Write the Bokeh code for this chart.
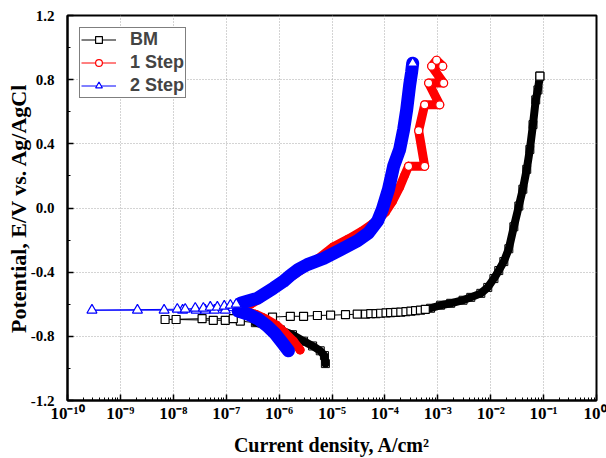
from bokeh.plotting import figure
from bokeh.models import (FixedTicker, Legend, LegendItem, Range1d,
                          NumeralTickFormatter, CustomJSTickFormatter)
from bokeh.embed import file_html
from bokeh.resources import INLINE

# ---------------- data (current density A/cm2, potential V vs Ag/AgCl) ----------------
# BM : cathodic branch, region around Ecorr (sparse markers), anodic branch
bm_cath_current = [7.5e-6, 7.2e-6, 6.0e-6, 4.3e-6, 2.9e-6, 1.79e-6, 1.06e-6, 6.3e-7, 3.56e-7]
bm_cath_potential = [-0.97, -0.92, -0.89, -0.86, -0.83, -0.79, -0.76, -0.735, -0.715]
bm_mid_current = [1.85e-7, 9.6e-8, 5.7e-8, 1.13e-8, 7.0e-9, 3.5e-8, 1.36e-7, 4.4e-7, 7.5e-7,
                  1.63e-6, 2.9e-6, 5.3e-6, 9.4e-6, 1.8e-5, 3.0e-5, 4.3e-5, 5.4e-5, 6.8e-5,
                  8.3e-5, 1.05e-4, 1.28e-4, 1.6e-4, 2.0e-4, 2.5e-4, 3.1e-4, 3.8e-4, 4.7e-4, 5.8e-4]
bm_mid_potential = [-0.705, -0.70, -0.70, -0.695, -0.695, -0.69, -0.69, -0.685, -0.68,
                    -0.675, -0.675, -0.67, -0.668, -0.665, -0.662, -0.661, -0.659, -0.658,
                    -0.656, -0.654, -0.652, -0.651, -0.649, -0.646, -0.643, -0.64, -0.637, -0.632]
bm_anod_current = [7.3e-4, 1.13e-3, 1.75e-3, 3.0e-3, 4.2e-3, 6.5e-3, 8.8e-3, 1.15e-2, 1.42e-2,
                   1.77e-2, 2.2e-2, 2.74e-2, 3.4e-2, 4.05e-2, 4.8e-2, 5.5e-2, 6.3e-2, 7.1e-2,
                   7.8e-2, 8.5e-2]
bm_anod_potential = [-0.625, -0.606, -0.594, -0.575, -0.557, -0.532, -0.495, -0.44, -0.39,
                     -0.334, -0.254, -0.117, 0.012, 0.117, 0.241, 0.365, 0.52, 0.674,
                     0.736, 0.822]

# 1 Step
s1_cath_current = [2.5e-6, 1.87e-6, 1.31e-6, 8.9e-7, 5.7e-7, 3.56e-7, 2.3e-7, 1.85e-7]
s1_cath_potential = [-0.885, -0.83, -0.78, -0.73, -0.693, -0.662, -0.643, -0.625]
s1_anod_current = [2.9e-7, 4.4e-7, 1.06e-6, 2.5e-6, 5.5e-6, 1.07e-5, 2.06e-5, 3.8e-5,
                   5.8e-5, 8.3e-5, 1.03e-4, 1.4e-4, 1.9e-4, 2.36e-4]
s1_anod_potential = [-0.60, -0.563, -0.476, -0.39, -0.315, -0.241, -0.192, -0.142,
                     -0.099, -0.056, -0.025, 0.043, 0.13, 0.204]
s1_top_current = [2.8e-4, 5.65e-4, 4.35e-4, 5.65e-4, 1.09e-3, 6.7e-4, 1.29e-3, 7.65e-4, 9.5e-4, 1.24e-3]
s1_top_potential = [0.26, 0.26, 0.482, 0.643, 0.643, 0.779, 0.779, 0.884, 0.921, 0.884]

# 2 Step
s2_cath_current = [1.5e-6, 1.15e-6, 8.5e-7, 6.0e-7, 4.05e-7, 2.6e-7, 1.69e-7]
s2_cath_potential = [-0.89, -0.84, -0.785, -0.736, -0.693, -0.662, -0.643]
s2_mid_current = [9.6e-8, 6.0e-8, 4.0e-8, 2.7e-8, 1.5e-8, 6.7e-9, 2.1e-9, 2.9e-10,
                  1.19e-8, 1.68e-8, 2.6e-8, 3.7e-8, 5.0e-8, 6.8e-8, 9.2e-8, 1.2e-7, 1.55e-7]
s2_mid_potential = [-0.637, -0.637, -0.637, -0.637, -0.637, -0.637, -0.637, -0.637,
                    -0.631, -0.631, -0.625, -0.625, -0.618, -0.618, -0.612, -0.606, -0.60]
s2_anod_current = [1.85e-7, 3.9e-7, 7.8e-7, 1.2e-6, 1.63e-6, 2.3e-6, 3.4e-6, 6.9e-6, 1.45e-5,
                   3.04e-5, 4.9e-5, 7.3e-5, 9.0e-5, 1.17e-4, 1.46e-4, 1.9e-4, 2.26e-4, 2.58e-4,
                   2.94e-4, 3.2e-4, 3.35e-4]
s2_anod_potential = [-0.594, -0.563, -0.50, -0.458, -0.42, -0.383, -0.353, -0.315, -0.26,
                     -0.204, -0.155, -0.08, -0.006, 0.117, 0.26, 0.365, 0.489, 0.612,
                     0.767, 0.847, 0.903]

x_ticks = [1e-10, 1e-9, 1e-8, 1e-7, 1e-6, 1e-5, 1e-4, 1e-3, 1e-2, 1e-1, 1e0]
y_ticks = [-1.2, -0.8, -0.4, 0.0, 0.4, 0.8, 1.2]
y_minor = [-1.0, -0.6, -0.2, 0.2, 0.6, 1.0]
x_minor = [m * t for t in x_ticks[:-1] for m in range(2, 10)]

SERIF = "Liberation Serif"

p = figure(width=606, height=458, x_axis_type="log",
           x_range=Range1d(1e-10, 1e0), y_range=Range1d(-1.2, 1.2),
           output_backend="svg", toolbar_location=None,
           min_border_left=67, min_border_right=10, min_border_top=15, min_border_bottom=56)
p.background_fill_color = "white"
p.border_fill_color = "white"
p.outline_line_color = "black"
p.outline_line_width = 2

p.xaxis.ticker = FixedTicker(ticks=x_ticks, minor_ticks=x_minor)
p.yaxis.ticker = FixedTicker(ticks=y_ticks, minor_ticks=y_minor)
p.yaxis.formatter = NumeralTickFormatter(format="0.0")
p.xaxis.formatter = CustomJSTickFormatter(code="""
const sup = {'-': '\u207b', '0': '\u2070', '1': '\u00b9', '2': '\u00b2', '3': '\u00b3',
             '4': '\u2074', '5': '\u2075', '6': '\u2076', '7': '\u2077', '8': '\u2078', '9': '\u2079'};
const e = Math.round(Math.log10(tick));
return '10' + String(e).split('').map(c => sup[c]).join('');
""")

for ax in (p.xaxis, p.yaxis):
    ax.axis_line_width = 2
    ax.axis_line_color = "black"
    ax.major_tick_in = 6
    ax.major_tick_out = 0
    ax.minor_tick_in = 3
    ax.minor_tick_out = 0
    ax.major_tick_line_width = 1.5
    ax.minor_tick_line_width = 1
    ax.major_label_text_font = SERIF
    ax.major_label_text_font_style = "bold"
    ax.major_label_text_font_size = "15px"
    ax.major_label_text_color = "black"
    ax.axis_label_text_font = SERIF
    ax.axis_label_text_font_style = "bold"
    ax.axis_label_text_font_size = "20px"
    ax.axis_label_text_color = "black"

p.xaxis.major_label_text_font_size = "17px"
p.xaxis.axis_label = "Current density, A/cm²"
p.yaxis.axis_label = "Potential, E/V vs. Ag/AgCl"
p.yaxis.axis_label_text_font_size = "22px"
p.xaxis.major_label_standoff = 3
p.xaxis.axis_label_standoff = 8
p.yaxis.major_label_standoff = 13
p.yaxis.axis_label_standoff = -3

for g in (p.xgrid, p.ygrid):
    g.grid_line_color = "#a8a8a8"
    g.grid_line_dash = "1 2"
    g.grid_line_width = 1


def draw_series(color, marker, size, thick, dense, open_sets, full):
    # thin connecting line through all points
    fc, fp = full
    line_r = p.line(fc, fp, line_color=color, line_width=1)
    # thick band where measurement points are dense
    for c, e in dense:
        p.line(c, e, line_color=color, line_width=thick, line_join="round", line_cap="round")
        p.scatter(c, e, marker=marker, size=size, line_color=color, fill_alpha=0, line_width=1)
    open_r = None
    for c, e in open_sets:
        r = p.scatter(c, e, marker=marker, size=size, line_color=color,
                      fill_color="white", line_width=1.2)
        if open_r is None:
            open_r = r
    return line_r, open_r


bm_line, bm_open = draw_series(
    "black", "square", 8, 8,
    [(bm_cath_current, bm_cath_potential), (bm_anod_current, bm_anod_potential)],
    [(bm_mid_current, bm_mid_potential), (bm_anod_current[-1:], bm_anod_potential[-1:])],
    (bm_cath_current + bm_mid_current + bm_anod_current,
     bm_cath_potential + bm_mid_potential + bm_anod_potential))

p.line(s1_top_current, s1_top_potential, line_color="#ff0000", line_width=9,
       line_join="round", line_cap="round")
s1_line, s1_open = draw_series(
    "#ff0000", "circle", 8, 9,
    [(s1_cath_current, s1_cath_potential),
     (s1_anod_current + s1_top_current[:1], s1_anod_potential + s1_top_potential[:1])],
    [(s1_top_current, s1_top_potential)],
    (s1_cath_current + s1_anod_current + s1_top_current,
     s1_cath_potential + s1_anod_potential + s1_top_potential))

s2_line, s2_open = draw_series(
    "#0000ff", "triangle", 10, 13,
    [(s2_cath_current, s2_cath_potential), (s2_anod_current, s2_anod_potential)],
    [(s2_mid_current, s2_mid_potential), (s2_anod_current[-1:], s2_anod_potential[-1:])],
    (s2_cath_current + s2_mid_current + s2_anod_current,
     s2_cath_potential + s2_mid_potential + s2_anod_potential))

legend = Legend(items=[
    LegendItem(label="BM", renderers=[bm_line, bm_open]),
    LegendItem(label="1 Step", renderers=[s1_line, s1_open]),
    LegendItem(label="2 Step", renderers=[s2_line, s2_open]),
], location="top_left")
legend.margin = 12
legend.padding = 1
legend.spacing = 2
legend.glyph_width = 35
legend.glyph_height = 17
legend.label_height = 17
legend.label_standoff = 14
legend.label_text_font = "Liberation Sans"
legend.label_text_font_style = "bold"
legend.label_text_font_size = "18px"
legend.border_line_color = "black"
legend.border_line_width = 1.5
legend.background_fill_color = "white"
legend.background_fill_alpha = 1
p.add_layout(legend)

open("out.html", "w").write(file_html(p, INLINE))
